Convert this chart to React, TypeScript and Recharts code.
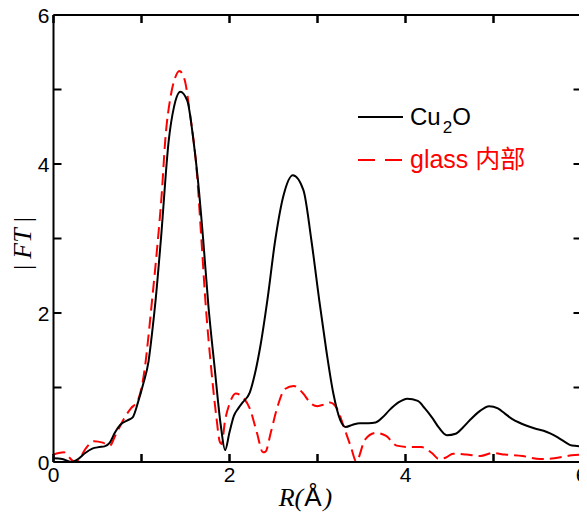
import React from 'react';
import { LineChart, Line, XAxis, YAxis, Legend, Label, ReferenceLine } from 'recharts';

// Cu2O |FT| curve
const cu2oR = [0, 0.1, 0.2, 0.28, 0.36, 0.44, 0.52, 0.58, 0.64, 0.7, 0.76, 0.84, 0.9, 0.96, 1.02, 1.08, 1.12, 1.16, 1.22, 1.31, 1.37, 1.44, 1.52, 1.59, 1.64, 1.7, 1.76, 1.83, 1.9, 1.95, 2.0, 2.05, 2.1, 2.15, 2.23, 2.29, 2.35, 2.43, 2.52, 2.61, 2.72, 2.84, 2.93, 3.02, 3.1, 3.18, 3.26, 3.32, 3.4, 3.48, 3.58, 3.66, 3.74, 3.82, 3.92, 4.02, 4.14, 4.22, 4.3, 4.38, 4.47, 4.57, 4.65, 4.73, 4.84, 4.95, 5.05, 5.13, 5.21, 5.29, 5.37, 5.47, 5.57, 5.65, 5.73, 5.81, 5.89, 6.0];
const cu2oFT = [0.05, 0.04, 0.0, 0.04, 0.12, 0.18, 0.2, 0.21, 0.26, 0.4, 0.5, 0.56, 0.6, 0.8, 1.05, 1.35, 1.73, 2.17, 2.98, 4.32, 4.77, 4.97, 4.85, 4.32, 3.8, 3.0, 2.1, 1.28, 0.5, 0.16, 0.4, 0.62, 0.72, 0.8, 0.93, 1.19, 1.55, 2.17, 2.98, 3.56, 3.85, 3.65, 2.98, 2.17, 1.5, 0.92, 0.56, 0.47, 0.5, 0.52, 0.52, 0.53, 0.6, 0.7, 0.8, 0.85, 0.82, 0.72, 0.6, 0.46, 0.36, 0.38, 0.46, 0.56, 0.68, 0.75, 0.72, 0.65, 0.58, 0.53, 0.49, 0.45, 0.42, 0.38, 0.33, 0.27, 0.22, 0.21];

// glass 内部 |FT| curve
const glassR = [0, 0.06, 0.12, 0.18, 0.24, 0.28, 0.36, 0.46, 0.56, 0.64, 0.7, 0.76, 0.82, 0.88, 0.96, 1.04, 1.08, 1.12, 1.18, 1.23, 1.27, 1.33, 1.38, 1.43, 1.49, 1.55, 1.63, 1.68, 1.73, 1.79, 1.85, 1.89, 1.91, 1.95, 2.0, 2.07, 2.15, 2.23, 2.31, 2.38, 2.41, 2.47, 2.55, 2.63, 2.73, 2.83, 2.93, 3.0, 3.07, 3.14, 3.22, 3.3, 3.38, 3.44, 3.54, 3.66, 3.78, 3.9, 4.06, 4.18, 4.3, 4.38, 4.46, 4.54, 4.69, 4.85, 4.99, 5.13, 5.33, 5.53, 5.69, 5.89, 6.0];
const glassFT = [0.1, 0.12, 0.13, 0.06, 0.0, 0.02, 0.17, 0.28, 0.26, 0.22, 0.35, 0.49, 0.62, 0.72, 0.83, 1.28, 1.7, 2.17, 2.9, 3.6, 4.32, 4.9, 5.15, 5.25, 5.13, 4.68, 3.87, 3.0, 2.1, 1.28, 0.61, 0.27, 0.24, 0.56, 0.78, 0.92, 0.87, 0.72, 0.4, 0.13, 0.14, 0.4, 0.76, 0.98, 1.02, 0.93, 0.78, 0.75, 0.77, 0.8, 0.72, 0.47, 0.2, 0.01, 0.3, 0.39, 0.35, 0.22, 0.2, 0.2, 0.12, 0.04, 0.06, 0.11, 0.1, 0.08, 0.12, 0.1, 0.08, 0.04, 0.05, 0.09, 0.1];

const xTicks = [0, 1, 2, 3, 4, 5, 6];
const yTicks = [0, 1, 2, 3, 4, 5, 6];
const labelledTicks = [0, 2, 4, 6];

const seriesNames = ['Cu', '2', 'O'];
const glassName = 'glass 内部';

const cu2oData = cu2oR.map((r, i) => ({ r, ft: cu2oFT[i] }));
const glassData = glassR.map((r, i) => ({ r, ft: glassFT[i] }));

const fmt = (v: number) => (labelledTicks.includes(v) ? String(v) : '');

const TICK_LEN = 8;
const FONT = 'Liberation Sans, Arial, sans-serif';
const axisLine = { stroke: '#000', strokeWidth: 2 };

// custom inward-pointing ticks (tickSize=0, tickMargin=0 → x,y lie on the axis line)
const BottomTick = (p: any) => (
  <g>
    <line x1={p.x} x2={p.x} y1={p.y} y2={p.y - TICK_LEN} stroke="#000" strokeWidth={2} />
    <text x={p.x} y={p.y + 5} dy="0.71em" textAnchor="middle" fontFamily={FONT} fontSize={21} fill="#000">
      {fmt(p.payload.value)}
    </text>
  </g>
);
const TopTick = (p: any) => (
  <line x1={p.x} x2={p.x} y1={p.y} y2={p.y + TICK_LEN} stroke="#000" strokeWidth={2} />
);
const LeftTick = (p: any) => (
  <g>
    <line x1={p.x} x2={p.x + TICK_LEN} y1={p.y} y2={p.y} stroke="#000" strokeWidth={2} />
    <text x={p.x - 4} y={p.y} dy="0.36em" textAnchor="end" fontFamily={FONT} fontSize={21} fill="#000">
      {fmt(p.payload.value)}
    </text>
  </g>
);
const RightTick = (p: any) => (
  <line x1={p.x} x2={p.x - TICK_LEN} y1={p.y} y2={p.y} stroke="#000" strokeWidth={2} />
);

// short inward marks at the top and bottom frame for each x tick
const XTickMarks = (p: any) => {
  const x = p.x1;
  const top = Math.min(p.y1, p.y2);
  const bot = Math.max(p.y1, p.y2);
  return (
    <g>
      <line x1={x} x2={x} y1={top} y2={top + TICK_LEN} stroke="#000" strokeWidth={2} />
      <line x1={x} x2={x} y1={bot - TICK_LEN} y2={bot} stroke="#000" strokeWidth={2} />
    </g>
  );
};

const XLabel = (props: any) => {
  const vb = props.viewBox || { x: 0, y: 0, width: 0 };
  return (
    <text x={vb.x + vb.width / 2 - 12} y={vb.y + 44} textAnchor="middle" fontSize={26} fill="#000">
      <tspan fontFamily="Liberation Serif, Times New Roman, serif" fontStyle="italic">R(</tspan>
      <tspan fontFamily={FONT} dx={1}>Å</tspan>
      <tspan fontFamily="Liberation Serif, Times New Roman, serif" fontStyle="italic" dx={2}>)</tspan>
    </text>
  );
};

const YLabel = (props: any) => {
  const vb = props.viewBox || { x: 0, y: 0, width: 0, height: 0 };
  const cx = vb.x + vb.width - 32;
  const cy = vb.y + vb.height / 2 + 5;
  return (
    <text
      x={cx}
      y={cy}
      transform={`rotate(-90 ${cx} ${cy})`}
      textAnchor="middle"
      dominantBaseline="central"
      fontSize={26}
      fontFamily="Liberation Serif, Times New Roman, serif"
      fill="#000"
    >
      <tspan>|</tspan>
      <tspan dx={6} fontStyle="italic">FT</tspan>
      <tspan dx={6}>|</tspan>
    </text>
  );
};

const renderLegend = () => (
  <svg width={200} height={90} style={{ display: 'block', overflow: 'visible' }}>
    <line x1={10} x2={55} y1={19} y2={19} stroke="#000" strokeWidth={2} />
    <text x={62} y={27} fontFamily={FONT} fontSize={24} fill="#000">
      <tspan>{seriesNames[0]}</tspan>
      <tspan fontSize={17} dy={8} dx={2}>{seriesNames[1]}</tspan>
      <tspan dy={-8}>{seriesNames[2]}</tspan>
    </text>
    <line x1={10} x2={55} y1={62} y2={62} stroke="#ff0000" strokeWidth={2} strokeDasharray="17 10" />
    <text x={62} y={70} fontFamily={`${FONT}, 'Noto Sans CJK SC'`} fontSize={25} fill="#ff0000">
      {glassName}
    </text>
  </svg>
);

export default function App() {
  return (
    <div style={{ width: 587, height: 513, margin: '-8px 0 0 -8px' }}>
      <LineChart width={587} height={513} margin={{ top: 13, right: 3.5, bottom: 11, left: 13.5 }}>
        <XAxis
          xAxisId="b"
          type="number"
          dataKey="r"
          domain={[0, 6]}
          ticks={xTicks}
          interval={0}
          allowDataOverflow
          orientation="bottom"
          height={40}
          tickSize={0}
          tickMargin={0}
          tickLine={false}
          tick={BottomTick}
          axisLine={axisLine}
        >
          <Label content={XLabel} />
        </XAxis>
        <XAxis
          xAxisId="t"
          type="number"
          dataKey="r"
          domain={[0, 6]}
          ticks={xTicks}
          interval={0}
          allowDataOverflow
          orientation="top"
          height={2}
          tickSize={0}
          tickMargin={0}
          tickLine={false}
          tick={TopTick}
          axisLine={axisLine}
        />
        <YAxis
          yAxisId="l"
          type="number"
          domain={[0, 6]}
          ticks={yTicks}
          interval={0}
          allowDataOverflow
          orientation="left"
          width={40}
          tickSize={0}
          tickMargin={0}
          tickLine={false}
          tick={LeftTick}
          axisLine={axisLine}
        >
          <Label content={YLabel} />
        </YAxis>
        <YAxis
          yAxisId="r"
          type="number"
          domain={[0, 6]}
          ticks={yTicks}
          interval={0}
          allowDataOverflow
          orientation="right"
          width={2}
          tickSize={0}
          tickMargin={0}
          tickLine={false}
          tick={RightTick}
          axisLine={axisLine}
        />
        {xTicks.map((t) => (
          <ReferenceLine
            key={`xt-${t}`}
            xAxisId="b"
            yAxisId="l"
            x={t}
            ifOverflow="visible"
            stroke="#000"
            shape={XTickMarks}
          />
        ))}
        <Line
          xAxisId="b"
          yAxisId="l"
          data={glassData}
          dataKey="ft"
          type="monotone"
          stroke="#ff0000"
          strokeWidth={2}
          strokeDasharray="12 6"
          dot={false}
          isAnimationActive={false}
        />
        <Line
          xAxisId="b"
          yAxisId="l"
          data={cu2oData}
          dataKey="ft"
          type="monotone"
          stroke="#000"
          strokeWidth={2}
          dot={false}
          isAnimationActive={false}
        />
        <Legend
          layout="vertical"
          align="center"
          verticalAlign="middle"
          content={renderLegend}
          wrapperStyle={{ position: 'absolute', left: 348, top: 98, width: 200, height: 90 }}
        />
      </LineChart>
    </div>
  );
}
